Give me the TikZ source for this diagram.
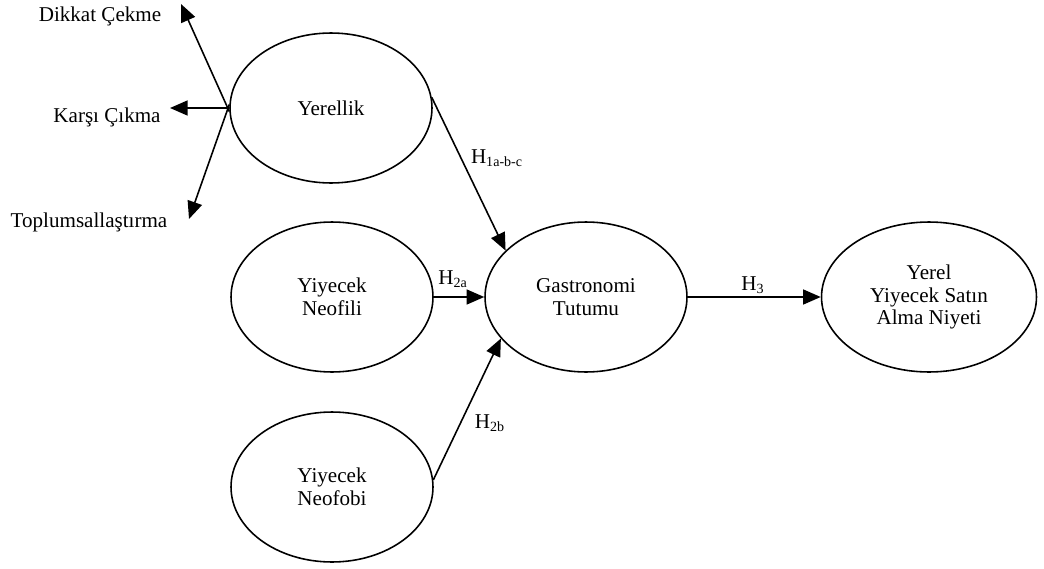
\documentclass[tikz,border=0pt]{standalone}
\usepackage{fontspec}
\setmainfont{Liberation Serif}
\usetikzlibrary{arrows.meta,shapes.geometric}

\begin{document}
\begin{tikzpicture}[x=0.02cm,y=-0.02cm]
 \tikzset{latent/.style = {shape=ellipse,draw,line width=0.9pt,minimum width=4.04cm,minimum height=3cm,inner sep=0pt,align=center,font=\fontsize{12}{13}\selectfont}}
 \tikzset{edge/.style = {-{Triangle[length=10pt,width=8.5pt]},line width=0.9pt}}
 \tikzset{lbl/.style = {font=\fontsize{12}{13}\selectfont,inner sep=0pt}}
 \useasboundingbox (0,0) rectangle (1044,568);
 \node[latent] (yer) at (331,108) {Yerellik};
 \node[latent] (neofili) at (332,297) {Yiyecek\\Neofili};
 \node[latent] (neofobi) at (332,487) {Yiyecek\\Neofobi};
 \node[latent] (gas) at (586,297) {Gastronomi\\Tutumu};
 \node[latent,minimum width=4.3cm] (niyet) at (929,297) {Yerel\\Yiyecek Satın\\Alma Niyeti};
 \node[lbl] (dikkat) at (100,16) {Dikkat Çekme};
 \node[lbl] (karsi) at (107,117) {Karşı Çıkma};
 \node[lbl] (toplum) at (89,222) {Toplumsallaştırma};
 \coordinate (dikkatuc) at (181,4);
 \coordinate (karsiuc) at (170,108);
 \coordinate (toplumuc) at (189,219);
 \draw[edge] (yer.182) to (dikkatuc);
 \draw[edge] (yer.west) to (karsiuc);
 \draw[edge] (yer.178) to (toplumuc);
 \draw[edge] (yer.6) to (gas.150);
 \draw[edge] (neofili.east) to (gas.west);
 \draw[edge] (neofobi.4) to (gas.206);
 \draw[edge] (gas.east) to (niyet.west);
 \node[lbl] (h1) at (497,158) {H\textsubscript{1a-b-c}};
 \node[lbl] (h2a) at (453,279) {H\textsubscript{2a}};
 \node[lbl] (h2b) at (490,423) {H\textsubscript{2b}};
 \node[lbl] (h3) at (753,285) {H\textsubscript{3}};

\end{tikzpicture}
\end{document}
